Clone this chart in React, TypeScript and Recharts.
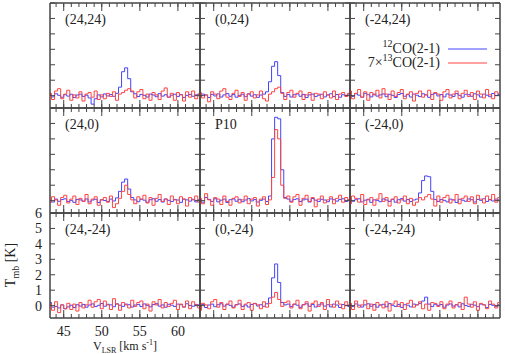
import React from 'react';
import { LineChart, Line, XAxis, YAxis } from 'recharts';

// velocity channels (km/s)
const velocity = [
  43.2, 43.6, 44.0, 44.4, 44.8, 45.2, 45.6, 46.0, 46.4, 46.8,
  47.2, 47.6, 48.0, 48.4, 48.8, 49.2, 49.6, 50.0, 50.4, 50.8,
  51.2, 51.6, 52.0, 52.4, 52.8, 53.2, 53.6, 54.0, 54.4, 54.8,
  55.2, 55.6, 56.0, 56.4, 56.8, 57.2, 57.6, 58.0, 58.4, 58.8,
  59.2, 59.6, 60.0, 60.4, 60.8, 61.2, 61.6, 62.0, 62.4, 62.8,
];

const xMajorTicks = [45, 50, 55, 60];
const xMinorTicks = [44, 45, 46, 47, 48, 49, 50, 51, 52, 53, 54, 55, 56, 57, 58, 59, 60, 61, 62];
const yTicks = [0, 1, 2, 3, 4, 5, 6];

// 12CO(2-1) and 7x13CO(2-1) spectra, one pair per offset position
const co12_p24_24 = [
  0.05, -0.08, 0.12, 0.02, -0.10, 0.06, -0.03, 0.09, -0.12, 0.04,
  0.10, -0.05, 0.03, -0.15, -0.55, -0.20, 0.05, -0.08, 0.11, -0.02,
  0.07, -0.04, 0.15, 0.55, 1.55, 1.80, 1.10, 0.25, 0.12, -0.06,
  0.08, 0.02, -0.09, 0.10, 0.04, -0.07, 0.13, -0.03, 0.06, -0.10,
  0.03, 0.09, -0.05, 0.07, -0.11, 0.02, 0.08, -0.04, 0.05, 0.10,
];
const co13_p24_24 = [
  0.15, -0.25, 0.30, 0.45, -0.20, 0.10, 0.35, -0.30, 0.05, -0.15,
  0.25, -0.35, 0.10, 0.20, -0.10, 0.30, -0.25, 0.05, -0.20, 0.15,
  -0.05, 0.25, -0.30, 0.10, 0.20, 0.35, 0.45, 0.30, -0.15, 0.25,
  0.40, -0.20, 0.10, -0.30, 0.20, 0.05, -0.25, 0.30, 0.50, -0.10,
  0.15, -0.30, 0.20, 0.05, -0.35, 0.25, -0.10, 0.30, -0.20, 0.10,
];

const co12_p0_24 = [
  -0.06, 0.10, 0.04, -0.12, 0.08, -0.02, 0.11, -0.09, 0.05, 0.13,
  -0.04, 0.07, -0.10, 0.02, 0.09, -0.07, 0.12, -0.03, 0.06, -0.11,
  0.04, 0.10, 0.25, 0.90, 1.90, 2.20, 1.30, 0.20, -0.05, 0.08,
  -0.09, 0.06, 0.11, -0.04, 0.08, -0.12, 0.05, 0.10, -0.06, 0.03,
  0.09, -0.08, 0.04, 0.12, -0.05, 0.07, -0.10, 0.06, 0.02, 0.11,
];
const co13_p0_24 = [
  0.20, -0.15, 0.05, -0.40, 0.25, 0.10, -0.20, 0.30, 0.45, -0.10,
  -0.25, 0.15, 0.35, -0.05, 0.20, -0.30, 0.10, 0.25, -0.15, 0.05,
  0.30, -0.20, -0.35, 0.10, 0.25, 0.45, 0.55, 0.15, -0.25, 0.20,
  0.35, -0.10, 0.15, 0.30, -0.25, 0.05, 0.20, -0.30, 0.15, 0.10,
  -0.20, 0.25, 0.05, -0.15, 0.30, -0.25, 0.10, 0.20, -0.05, 0.15,
];

const co12_pm24_24 = [
  0.08, -0.05, 0.12, 0.03, -0.10, 0.15, 0.06, -0.08, 0.10, -0.03,
  0.05, 0.11, -0.07, 0.09, 0.02, -0.12, 0.07, 0.14, -0.04, 0.06,
  -0.09, 0.10, 0.03, -0.06, 0.12, 0.05, -0.11, 0.08, 0.15, -0.02,
  0.07, -0.08, 0.11, 0.04, -0.05, 0.13, 0.02, -0.10, 0.09, 0.06,
  -0.04, 0.12, 0.05, -0.09, 0.10, 0.03, -0.07, 0.14, 0.01, 0.08,
];
const co13_pm24_24 = [
  0.30, -0.20, 0.15, 0.40, -0.10, 0.25, -0.30, 0.20, 0.05, 0.35,
  -0.15, 0.45, 0.10, -0.25, 0.30, -0.05, 0.20, 0.40, -0.20, 0.10,
  0.25, -0.35, 0.15, 0.30, -0.10, 0.05, 0.35, -0.25, 0.20, 0.10,
  -0.30, 0.25, 0.40, -0.15, 0.10, 0.30, -0.20, 0.15, 0.35, -0.05,
  0.20, -0.25, 0.30, 0.10, -0.15, 0.40, 0.05, -0.20, 0.25, 0.15,
];

const co12_p24_0 = [
  0.03, -0.09, 0.10, -0.04, 0.07, 0.12, -0.06, 0.02, -0.11, 0.08,
  0.05, -0.03, 0.11, -0.08, 0.04, 0.09, -0.12, 0.06, 0.01, -0.05,
  0.10, -0.02, 0.18, 0.60, 1.20, 1.40, 0.75, 0.20, 0.05, -0.07,
  0.09, 0.03, -0.10, 0.06, 0.12, -0.04, 0.07, -0.09, 0.11, 0.02,
  -0.06, 0.08, 0.04, -0.11, 0.10, 0.05, -0.03, 0.09, -0.08, 0.06,
];
const co13_p24_0 = [
  -0.10, 0.25, 0.05, -0.30, 0.20, 0.35, -0.15, 0.10, 0.30, -0.25,
  0.15, -0.05, 0.40, -0.20, 0.10, 0.25, -0.30, 0.05, 0.20, -0.10,
  0.30, -0.45, -0.20, 0.15, 0.60, 1.00, 0.40, 0.05, -0.20, 0.25,
  0.10, 0.35, -0.15, 0.20, -0.30, 0.15, 0.40, -0.05, 0.10, -0.25,
  0.30, 0.05, -0.20, 0.25, 0.10, -0.35, 0.20, 0.05, 0.30, -0.10,
];

const co12_p10 = [
  0.05, -0.10, 0.20, 0.08, -0.05, 0.12, -0.08, 0.03, 0.10, -0.12,
  0.06, 0.11, -0.04, 0.09, -0.07, 0.04, 0.13, -0.02, 0.07, -0.09,
  0.02, 0.10, -0.05, 0.30, 4.00, 5.40, 5.30, 2.00, 0.20, 0.10,
  -0.04, 0.08, 0.12, -0.06, 0.05, 0.10, -0.09, 0.14, 0.03, -0.05,
  0.09, 0.04, -0.07, 0.11, 0.06, -0.03, 0.08, 0.12, -0.06, 0.05,
];
const co13_p10 = [
  0.15, -0.20, 0.45, 0.05, -0.30, 0.20, 0.10, -0.25, 0.30, -0.05,
  -0.30, 0.15, 0.25, -0.15, 0.05, 0.30, -0.20, 0.10, 0.20, -0.35,
  0.10, 0.25, -0.25, 0.05, 1.50, 4.60, 4.00, 1.00, 0.15, 0.30,
  -0.10, 0.25, 0.40, -0.30, 0.15, 0.35, -0.05, 0.20, -0.40, 0.10,
  0.30, -0.15, 0.05, 0.25, -0.20, 0.15, 0.35, -0.10, 0.20, 0.05,
];

const co12_pm24_0 = [
  0.10, -0.04, 0.06, 0.12, -0.08, 0.03, 0.09, -0.11, 0.05, 0.02,
  -0.07, 0.11, 0.04, -0.05, 0.08, -0.10, 0.06, 0.13, -0.03, 0.07,
  -0.06, 0.04, 0.10, 0.50, 1.30, 1.60, 1.55, 0.60, 0.08, -0.05,
  0.07, 0.02, -0.08, 0.10, 0.05, -0.12, 0.09, 0.03, -0.04, 0.11,
  0.06, -0.09, 0.08, 0.02, 0.12, -0.05, 0.07, -0.02, 0.10, 0.04,
];
const co13_pm24_0 = [
  -0.20, 0.30, 0.15, -0.10, 0.40, -0.25, 0.05, 0.20, -0.30, 0.10,
  0.45, -0.05, 0.20, -0.35, 0.10, 0.25, -0.15, 0.05, 0.30, -0.20,
  0.15, -0.30, -0.10, 0.20, 0.05, 0.25, 0.40, 0.10, -0.35, 0.30,
  -0.10, 0.20, 0.35, -0.15, 0.05, 0.40, -0.20, 0.15, 0.30, -0.05,
  0.25, -0.20, 0.35, 0.10, -0.15, 0.30, 0.05, 0.40, -0.10, 0.20,
];

const co12_p24_m24 = [
  0.20, -0.10, -0.05, -0.15, 0.05, -0.20, -0.08, 0.03, -0.12, 0.06,
  -0.03, 0.08, -0.10, 0.04, 0.11, -0.06, 0.02, 0.14, -0.04, 0.09,
  0.05, -0.07, 0.12, 0.03, -0.05, 0.10, 0.06, -0.09, 0.04, 0.08,
  -0.06, 0.11, 0.02, -0.08, 0.07, 0.13, -0.03, 0.05, -0.10, 0.09,
  0.03, -0.05, 0.10, 0.06, -0.08, 0.12, 0.01, -0.04, 0.08, 0.05,
];
const co13_p24_m24 = [
  0.10, -0.30, 0.25, -0.45, 0.05, -0.20, 0.15, -0.25, 0.10, -0.35,
  0.20, -0.15, 0.05, 0.35, -0.10, 0.25, 0.40, -0.20, 0.30, 0.05,
  -0.25, 0.45, 0.10, -0.30, 0.20, 0.05, -0.15, 0.35, -0.05, 0.20,
  0.30, -0.20, 0.10, -0.35, 0.25, 0.05, 0.40, -0.15, 0.20, -0.05,
  0.15, 0.35, -0.25, 0.10, -0.10, 0.30, -0.20, 0.25, 0.05, -0.15,
];

const co12_p0_m24 = [
  -0.05, 0.08, -0.12, 0.04, 0.10, -0.07, 0.06, 0.12, -0.03, 0.09,
  0.02, -0.10, 0.07, 0.11, -0.05, 0.04, -0.09, 0.08, 0.13, -0.02,
  0.06, -0.04, 0.12, 0.50, 1.80, 2.70, 1.50, 0.20, 0.05, 0.10,
  -0.06, 0.09, 0.03, -0.11, 0.07, 0.12, -0.04, 0.08, -0.09, 0.05,
  0.11, -0.03, 0.06, -0.08, 0.10, 0.04, -0.12, 0.07, 0.02, -0.05,
];
const co13_p0_m24 = [
  -0.30, 0.15, 0.05, -0.20, 0.25, 0.40, -0.10, 0.20, -0.25, 0.10,
  0.30, -0.15, 0.05, 0.35, -0.25, 0.10, 0.20, -0.30, 0.15, 0.05,
  -0.20, 0.25, -0.10, 0.15, 0.55, 0.85, 0.40, -0.05, 0.20, 0.30,
  -0.15, 0.10, 0.35, -0.20, 0.05, 0.25, -0.35, 0.15, 0.30, -0.05,
  0.20, -0.25, 0.40, 0.05, -0.10, 0.30, 0.10, -0.20, 0.25, 0.05,
];

const co12_pm24_m24 = [
  0.08, -0.06, 0.11, 0.03, -0.09, 0.05, 0.12, -0.04, 0.07, -0.10,
  0.04, 0.09, -0.07, 0.13, 0.02, -0.05, 0.08, -0.11, 0.06, 0.03,
  -0.08, 0.10, 0.05, 0.15, 0.30, 0.55, 0.10, -0.06, 0.09, 0.02,
  0.07, -0.10, 0.04, 0.11, -0.03, 0.06, -0.08, 0.12, 0.01, -0.05,
  0.09, 0.03, -0.07, 0.10, 0.05, -0.12, 0.08, 0.02, -0.04, 0.06,
];
const co13_pm24_m24 = [
  0.15, -0.25, 0.30, -0.10, 0.05, 0.35, -0.20, 0.10, -0.30, 0.20,
  0.05, -0.15, 0.25, -0.35, 0.10, 0.30, -0.05, 0.20, -0.25, 0.15,
  0.35, -0.10, 0.05, 0.25, -0.20, 0.10, -0.30, 0.20, 0.15, -0.05,
  0.25, -0.20, 0.10, 0.30, -0.15, 0.05, 0.20, -0.25, 0.55, 0.10,
  -0.10, 0.25, -0.30, 0.15, 0.05, -0.20, 0.30, 0.10, -0.15, 0.20,
];

const panels = [
  { name: '(24,24)', co12: co12_p24_24, co13: co13_p24_24 },
  { name: '(0,24)', co12: co12_p0_24, co13: co13_p0_24 },
  { name: '(-24,24)', co12: co12_pm24_24, co13: co13_pm24_24 },
  { name: '(24,0)', co12: co12_p24_0, co13: co13_p24_0 },
  { name: 'P10', co12: co12_p10, co13: co13_p10 },
  { name: '(-24,0)', co12: co12_pm24_0, co13: co13_pm24_0 },
  { name: '(24,-24)', co12: co12_p24_m24, co13: co13_p24_m24 },
  { name: '(0,-24)', co12: co12_p0_m24, co13: co13_p0_m24 },
  { name: '(-24,-24)', co12: co12_pm24_m24, co13: co13_pm24_m24 },
];

const X_DOMAIN: [number, number] = [43.2, 62.9];
const Y_DOMAIN: [number, number] = [-0.8, 6];
const FRAME = '#444';
const BLUE = '#4444ff';
const RED = '#ff4444';
const FONT = '"Liberation Serif", "DejaVu Serif", serif';
const PLOT_LEFT = 50;
const PLOT_TOP = 3;
const PW = 150;
const PH = 105;

const tickFont = { fontSize: 14, fill: '#222', fontFamily: FONT };
// tick marks only, no text
const noLabel = () => <g />;

function Panel({ idx }: { idx: number }) {
  const p = panels[idx];
  const col = idx % 3;
  const row = Math.floor(idx / 3);
  const labeled = col === 0 && row === 2;
  const rows = velocity.map((v, i) => ({ v, co12: p.co12[i], co13: p.co13[i] }));
  const left = PLOT_LEFT + col * PW;
  const top = PLOT_TOP + row * PH;

  // the labelled panel needs room round it for the tick numbers
  const padTop = labeled ? 10 : 3;
  const width = labeled ? PLOT_LEFT + PW + 3 : PW + 6;
  const height = labeled ? PH + padTop + 30 : PH + 6;
  const margin = labeled
    ? { top: padTop, right: 3, left: 0, bottom: 0 }
    : { top: 3, right: 3, left: 3, bottom: 3 };

  const frameAxis = { stroke: FRAME, strokeWidth: 1.5 };
  const tickStroke = { stroke: FRAME, strokeWidth: 1 };

  return (
    <div style={{ position: 'absolute', left: labeled ? 0 : left - 3, top: top - padTop }}>
      <LineChart width={width} height={height} data={rows} margin={margin}>
        {/* inward ticks on all four sides, minor every 1 km/s, major every 5 */}
        <XAxis xAxisId="b" type="number" dataKey="v" domain={X_DOMAIN} ticks={xMinorTicks} interval={0}
          orientation="bottom" mirror height={1} tick={noLabel} tickSize={4} allowDataOverflow
          axisLine={frameAxis} tickLine={tickStroke} />
        <XAxis xAxisId="bM" type="number" dataKey="v" domain={X_DOMAIN} ticks={xMajorTicks} interval={0}
          orientation="bottom" mirror height={1} tick={noLabel} tickSize={7} allowDataOverflow
          axisLine={false} tickLine={tickStroke} />
        <XAxis xAxisId="t" type="number" dataKey="v" domain={X_DOMAIN} ticks={xMinorTicks} interval={0}
          orientation="top" mirror height={1} tick={noLabel} tickSize={4} allowDataOverflow
          axisLine={frameAxis} tickLine={tickStroke} />
        <XAxis xAxisId="tM" type="number" dataKey="v" domain={X_DOMAIN} ticks={xMajorTicks} interval={0}
          orientation="top" mirror height={1} tick={noLabel} tickSize={7} allowDataOverflow
          axisLine={false} tickLine={tickStroke} />
        <YAxis yAxisId="l" type="number" dataKey="co12" domain={Y_DOMAIN} ticks={yTicks} interval={0}
          orientation="left" mirror width={1} tick={noLabel} tickSize={5} allowDataOverflow
          axisLine={frameAxis} tickLine={tickStroke} />
        <YAxis yAxisId="r" type="number" dataKey="co12" domain={Y_DOMAIN} ticks={yTicks} interval={0}
          orientation="right" mirror width={1} tick={noLabel} tickSize={5} allowDataOverflow
          axisLine={frameAxis} tickLine={tickStroke} />
        {labeled && (
          <XAxis xAxisId="lab" type="number" dataKey="v" domain={X_DOMAIN} ticks={xMajorTicks} interval={0}
            orientation="bottom" height={30} tickSize={6} tickMargin={2} allowDataOverflow
            axisLine={false} tickLine={false} tick={tickFont} />
        )}
        {labeled && (
          <YAxis yAxisId="lab" type="number" dataKey="co12" domain={Y_DOMAIN} ticks={yTicks} interval={0}
            orientation="left" width={50} tickSize={6} tickMargin={2} allowDataOverflow
            axisLine={false} tickLine={false} tick={tickFont} />
        )}
        <Line xAxisId="b" yAxisId="l" type="step" dataKey="co12" stroke={BLUE}
          strokeWidth={1} dot={false} isAnimationActive={false} />
        <Line xAxisId="b" yAxisId="l" type="step" dataKey="co13" stroke={RED}
          strokeWidth={1} dot={false} isAnimationActive={false} />
      </LineChart>
      <div style={{
        position: 'absolute',
        left: (labeled ? left : 3) + 15,
        top: padTop + 9,
        fontSize: 14,
        lineHeight: '16px',
        color: '#222',
        fontFamily: FONT,
        whiteSpace: 'nowrap',
      }}>
        {p.name}
      </div>
    </div>
  );
}

export default function App() {
  return (
    <div style={{
      position: 'absolute', left: 0, top: 0, width: 505, height: 354,
      overflow: 'hidden', background: '#fff', fontFamily: FONT, color: '#222',
    }}>
      {panels.map((_, i) => <Panel key={i} idx={i} />)}

      {/* legend */}
      <div style={{ position: 'absolute', right: 65, top: 41, fontSize: 14, lineHeight: '16px', whiteSpace: 'nowrap', textAlign: 'right' }}>
        <sup style={{ fontSize: 10, lineHeight: 0 }}>12</sup>CO(2-1)
      </div>
      <div style={{ position: 'absolute', right: 65, top: 55, fontSize: 14, lineHeight: '16px', whiteSpace: 'nowrap', textAlign: 'right' }}>
        7×<sup style={{ fontSize: 10, lineHeight: 0 }}>13</sup>CO(2-1)
      </div>
      <svg style={{ position: 'absolute', left: 448, top: 44 }} width={40} height={24}>
        <line x1={0} x2={39} y1={5} y2={5} stroke={BLUE} strokeWidth={1} />
        <line x1={0} x2={39} y1={19} y2={19} stroke={RED} strokeWidth={1} />
      </svg>

      {/* axis titles */}
      <div style={{
        position: 'absolute', left: -29, top: 257, width: 80, height: 16,
        fontSize: 14, lineHeight: '16px', textAlign: 'center', whiteSpace: 'nowrap',
        transform: 'rotate(-90deg)',
      }}>
        T<sub style={{ fontSize: 10, lineHeight: 0 }}>mb</sub> [K]
      </div>
      <div style={{
        position: 'absolute', left: 50, top: 340, width: 150,
        fontSize: 12, lineHeight: '12px', textAlign: 'center', whiteSpace: 'nowrap',
      }}>
        V<sub style={{ fontSize: 8, lineHeight: 0 }}>LSR</sub> [km s<sup style={{ fontSize: 8, lineHeight: 0 }}>-1</sup>]
      </div>
    </div>
  );
}
